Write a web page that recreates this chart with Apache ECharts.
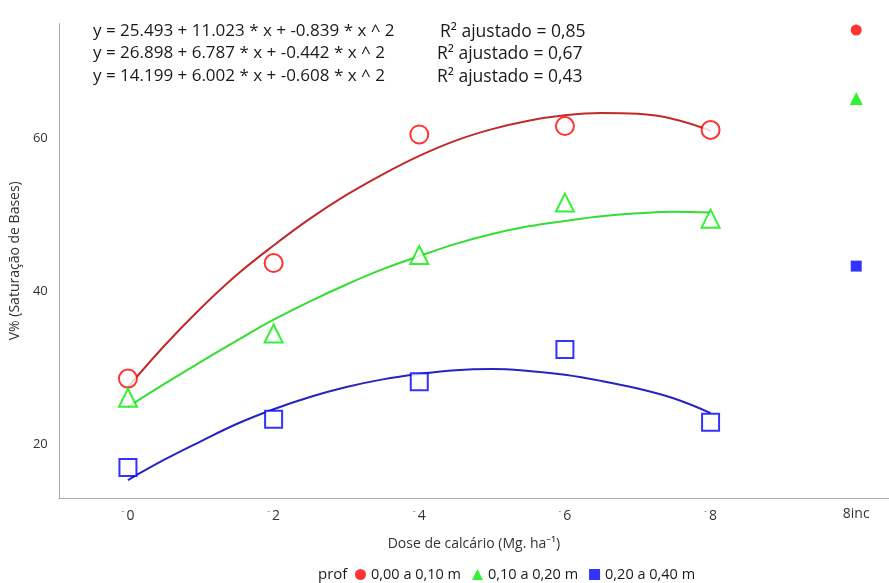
<!DOCTYPE html>
<html>
<head>
<meta charset="utf-8">
<script src="https://cdn.jsdelivr.net/npm/echarts@6/dist/echarts.min.js"></script>
<style>html,body{margin:0;padding:0;background:#fff}#c{width:889px;height:583px}</style>
</head>
<body>
<div id="c"></div>
<script>
// ---- data ----
const xTicks = [0, 2, 4, 6, 8, 10];
const xTickLabels = ['0', '2', '4', '6', '8', '8inc'];
const yTicks = [20, 40, 60];
const seriesNames = ['0,00 a 0,10 m', '0,10 a 0,20 m', '0,20 a 0,40 m'];
const doses = [0, 2, 4, 6, 8];
const obsA = [28.6, 43.7, 60.5, 61.6, 61.1];
const obsB = [26.1, 34.5, 44.75, 51.6, 49.5];
const obsC = [17.0, 23.3, 28.2, 32.4, 22.9];
const incX = 10;
const incValues = [74.15, 65.2, 43.3];
// fitted curves
const fitX  = [0, 0.5, 1, 1.5, 2, 2.5, 3, 3.5, 4, 4.5, 5, 5.5, 6, 6.5, 7, 7.5, 8];
const fitAy = [27.5, 32.9, 37.8, 42.2, 46.0, 49.5, 52.6, 55.3, 57.7, 59.7, 61.2, 62.3, 63.0, 63.3, 63.2, 62.5, 61.0];
const fitBy = [24.9, 27.9, 30.8, 33.6, 36.3, 38.7, 40.9, 42.9, 44.6, 46.2, 47.5, 48.5, 49.2, 49.8, 50.2, 50.4, 50.3];
const fitCy = [15.35, 18.0, 20.4, 22.7, 24.6, 26.2, 27.5, 28.5, 29.2, 29.7, 29.85, 29.6, 29.1, 28.3, 27.3, 26.0, 24.1];
const equations = [
  'y = 25.493 + 11.023 * x + -0.839 * x ^ 2',
  'y = 26.898 + 6.787 * x + -0.442 * x ^ 2',
  'y = 14.199 + 6.002 * x + -0.608 * x ^ 2'
];
const r2Texts = ['R\u00b2 ajustado = 0,85', 'R\u00b2 ajustado = 0,67', 'R\u00b2 ajustado = 0,43'];

// ---- chart ----
const markerColors = ['#ff0000', '#00ee00', '#0000ff'];
const lineColors = ['#c02a2a', '#33dd33', '#2424c0'];
const symbols = ['circle', 'triangle', 'rect'];
const zip = (a, b) => a.map((v, i) => [v, b[i]]);
const obs = [obsA, obsB, obsC];
const fits = [zip(fitX, fitAy), zip(fitX, fitBy), zip(fitX, fitCy)];
const font = '"Open Sans", "Noto Sans", sans-serif';

const series = [];
for (let i = 0; i < 3; i++) {
  series.push({
    name: 'fit' + i, type: 'line', data: fits[i], smooth: 0.4, showSymbol: false,
    lineStyle: { color: lineColors[i], width: 2 }, z: 2, silent: true
  });
  series.push({
    name: 'obs' + i, type: 'scatter', data: zip(doses, obs[i]),
    symbol: 'empty' + symbols[i].charAt(0).toUpperCase() + symbols[i].slice(1),
    symbolSize: i === 2 ? 17 : 18,
    itemStyle: { color: markerColors[i], borderColor: markerColors[i], borderWidth: 2 }, z: 5
  });
  series.push({
    name: seriesNames[i], type: 'scatter', data: [[incX, incValues[i]]],
    symbol: symbols[i], symbolSize: i === 0 ? 11 : (i === 1 ? 13 : 11),
    itemStyle: { color: markerColors[i] }, z: 5
  });
}

const graphics = [];
const eqY = [31, 53, 76];
const r2X = [440, 437, 437];
for (let i = 0; i < 3; i++) {
  graphics.push({ type: 'text', left: 93, top: eqY[i] - 8,
    style: { text: equations[i], font: '17px ' + font, fill: '#1a1a1a' } });
  graphics.push({ type: 'text', left: r2X[i], top: eqY[i] - 8,
    style: { text: r2Texts[i], font: '17.5px ' + font, fill: '#1a1a1a' } });
}
graphics.push({ type: 'text', left: 318, top: 567,
  style: { text: 'prof', font: '15px ' + font, fill: '#1a1a1a' } });

const chart = echarts.init(document.getElementById('c'), null, { renderer: 'canvas' });
chart.setOption({
  animation: false,
  backgroundColor: '#fff',
  grid: { left: 58, right: 0, top: 23.5, bottom: 85, containLabel: false },
  xAxis: {
    type: 'value', min: -0.95, max: 10.45,
    name: 'Dose de calcário (Mg. ha\u207b\u00b9)', nameLocation: 'middle', nameGap: 39,
    nameTextStyle: { fontFamily: font, fontSize: 14, color: '#333' },
    axisLine: { show: true, onZero: false, lineStyle: { color: '#b4a7ab', width: 1 } },
    axisTick: { show: false },
    splitLine: { show: false },
    axisLabel: {
      customValues: xTicks, margin: 9,
      formatter: v => {
        const idx = xTicks.indexOf(v);
        const t = xTickLabels[idx];
        return v === incX ? '{n|' + t + '}' : '{d|-}{n|' + t + '}';
      },
      rich: {
        d: { fontSize: 9, color: '#777', padding: [0, 2, 9, 0], fontFamily: font },
        n: { fontSize: 14, color: '#333', fontFamily: font }
      }
    }
  },
  yAxis: {
    type: 'value', min: 13, max: 75,
    name: 'V% (Saturação de Bases)', nameLocation: 'middle', nameGap: 34,
    nameTextStyle: { fontFamily: font, fontSize: 14, color: '#333' },
    axisLine: { show: true, onZero: false, lineStyle: { color: '#b4a7ab', width: 1 } },
    axisTick: { show: false },
    splitLine: { show: false },
    axisLabel: { customValues: yTicks, margin: 11, fontSize: 13, color: '#333', fontFamily: font }
  },
  legend: {
    data: seriesNames.map((n, i) => ({ name: n, icon: symbols[i] })),
    left: 355, top: 567, padding: 0, itemWidth: 11, itemHeight: 11, itemGap: 11,
    textStyle: { fontFamily: font, fontSize: 14.5, color: '#1a1a1a' }
  },
  graphic: graphics,
  series: series
});
</script>
</body>
</html>
